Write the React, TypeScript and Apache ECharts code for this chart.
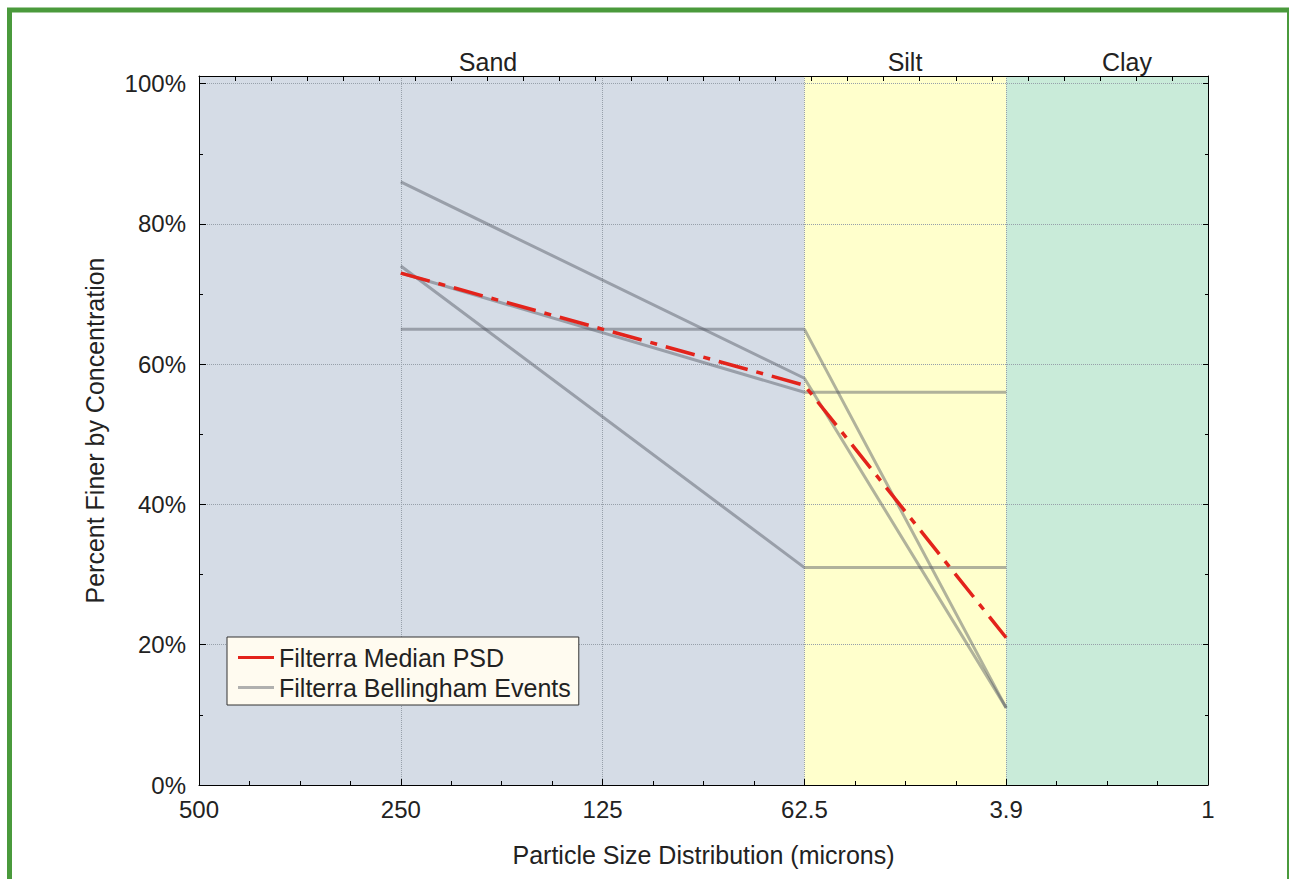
import React, { useEffect, useRef } from "react";
import * as echarts from "echarts";

const xLabels = ["500", "250", "125", "62.5", "3.9", "1"];
const pointSizes = ["250", "62.5", "3.9"];
const medianPSD = [73, 57, 21];
const eventA = [86, 58, 11];
const eventB = [74, 31, 31];
const eventC = [65, 65, 11];
const eventD = [73, 56, 56];
const bandNames = ["Sand", "Silt", "Clay"];
const bandStart = ["500", "62.5", "3.9"];
const bandEnd = ["62.5", "3.9", "1"];
const yTicks = [0, 20, 40, 60, 80, 100];

const FONT = "'Liberation Sans', Arial, sans-serif";
const bandColors = ["#d5dce6", "#ffffcc", "#c9ebd9"];
const grayLine = "rgba(80,85,95,0.45)";
const TICK_FS = 24;
const TEXT_FS = 25;

function toPts(vals: number[]) {
  return pointSizes.map((s, i) => [xLabels.indexOf(s), vals[i]]);
}

export default function App() {
  const ref = useRef<HTMLDivElement>(null);
  useEffect(() => {
    if (!ref.current) return;
    const chart = echarts.init(ref.current, null, { renderer: "svg" });
    const YMAX = 101.1;
    const bandData = bandNames.map((n, i) => [
      xLabels.indexOf(bandStart[i]),
      xLabels.indexOf(bandEnd[i]),
      i,
    ]);
    const eventSeries = [eventA, eventB, eventC, eventD].map((vals) => ({
      type: "line",
      name: "Filterra Bellingham Events",
      data: toPts(vals),
      symbol: "none",
      z: 3,
      color: grayLine,
      lineStyle: { color: grayLine, width: 3 },
    }));
    const bandLabelX = [488, 905, 1127];
    chart.setOption({
      animation: false,
      backgroundColor: "#ffffff",
      textStyle: { fontFamily: FONT },
      grid: { left: 199, top: 76, width: 1009, height: 709, containLabel: false },
      legend: {
        orient: "vertical",
        left: 227,
        top: 637,
        data: ["Filterra Median PSD", "Filterra Bellingham Events"],
        backgroundColor: "#fffbf0",
        borderColor: "#333333",
        borderWidth: 1,
        padding: [8, 8, 5, 11],
        itemGap: 5,
        itemWidth: 36,
        itemHeight: 3,
        icon: "rect",
        textStyle: { fontFamily: FONT, fontSize: TEXT_FS, color: "#222" },
      },
      xAxis: [
        {
          type: "value",
          position: "bottom",
          min: 0,
          max: 5,
          interval: 1,
          z: 1,
          axisLine: { show: true, onZero: false, lineStyle: { color: "#000", width: 1 } },
          axisTick: { show: true, inside: true, length: 6, lineStyle: { color: "#000" } },
          minorTick: { show: true, splitNumber: 4, length: 4, lineStyle: { color: "#000" } },
          splitLine: { show: true, lineStyle: { color: "#97a0aa", type: "dotted", width: 1 } },
          axisLabel: {
            formatter: (v: number) => xLabels[Math.round(v)] ?? "",
            fontSize: TICK_FS,
            color: "#222",
            margin: 12,
            fontFamily: FONT,
          },
          name: "Particle Size Distribution (microns)",
          nameLocation: "middle",
          nameGap: 57,
          nameTextStyle: { fontSize: TEXT_FS, color: "#222", fontFamily: FONT },
        },
        {
          type: "value",
          position: "top",
          min: 0,
          max: 28,
          interval: 1,
          z: 1,
          axisLine: { show: true, onZero: false, lineStyle: { color: "#000", width: 1 } },
          axisTick: { show: true, inside: true, length: 5, lineStyle: { color: "#000" } },
          axisLabel: { show: false },
          splitLine: { show: false },
        },
      ],
      yAxis: [
        {
          type: "value",
          position: "left",
          min: 0,
          max: YMAX,
          interval: 20,
          z: 1,
          axisLine: { show: true, onZero: false, lineStyle: { color: "#000", width: 1 } },
          axisTick: { show: true, inside: true, length: 7, lineStyle: { color: "#000" } },
          minorTick: { show: true, splitNumber: 2, length: 4, lineStyle: { color: "#000" } },
          splitLine: { show: true, lineStyle: { color: "#97a0aa", type: "dotted", width: 1 } },
          axisLabel: {
            formatter: (v: number) => (yTicks.includes(v) ? v + "%" : ""),
            showMaxLabel: false,
            fontSize: TICK_FS,
            color: "#222",
            margin: 13,
            fontFamily: FONT,
          },
          name: "Percent Finer by Concentration",
          nameLocation: "middle",
          nameRotate: 90,
          nameGap: 92,
          nameTextStyle: { fontSize: TEXT_FS, color: "#222", fontFamily: FONT },
        },
        {
          type: "value",
          position: "right",
          min: 0,
          max: YMAX,
          interval: 20,
          z: 1,
          axisLine: { show: true, onZero: false, lineStyle: { color: "#000", width: 1 } },
          axisTick: { show: true, inside: true, length: 5, lineStyle: { color: "#000" } },
          minorTick: { show: true, splitNumber: 2, length: 3, lineStyle: { color: "#000" } },
          splitLine: { show: false },
          axisLabel: { show: false },
        },
      ],
      series: [
        {
          type: "custom",
          name: "bands",
          z: 0,
          silent: true,
          data: bandData,
          renderItem: (params: any, api: any) => {
            const s = api.coord([api.value(0), YMAX]);
            const e = api.coord([api.value(1), 0]);
            return {
              type: "rect",
              shape: { x: s[0], y: s[1], width: e[0] - s[0], height: e[1] - s[1] },
              style: { fill: bandColors[api.value(2)] },
            };
          },
        },
        ...eventSeries,
        {
          type: "line",
          name: "Filterra Median PSD",
          data: toPts(medianPSD),
          symbol: "none",
          z: 4,
          color: "#e3231b",
          lineStyle: { color: "#e3231b", width: 3.5, type: [30, 9, 7, 9] },
        },
      ],
      graphic: [
        {
          type: "rect",
          silent: true,
          shape: { x: 9.5, y: 10, width: 1280, height: 1000 },
          style: { fill: "none", stroke: "#4a9a3c", lineWidth: 5 },
          z: 10,
        },
        ...bandNames.map((n, i) => ({
          type: "text",
          x: bandLabelX[i],
          y: 62,
          style: {
            text: n,
            fontSize: TEXT_FS,
            fontFamily: FONT,
            fill: "#222",
            align: "center",
            verticalAlign: "middle",
          },
        })),
      ],
    });
    return () => chart.dispose();
  }, []);
  return (
    <div
      ref={ref}
      style={{ position: "fixed", left: 0, top: 0, width: 1289, height: 879, background: "#fff" }}
    />
  );
}
